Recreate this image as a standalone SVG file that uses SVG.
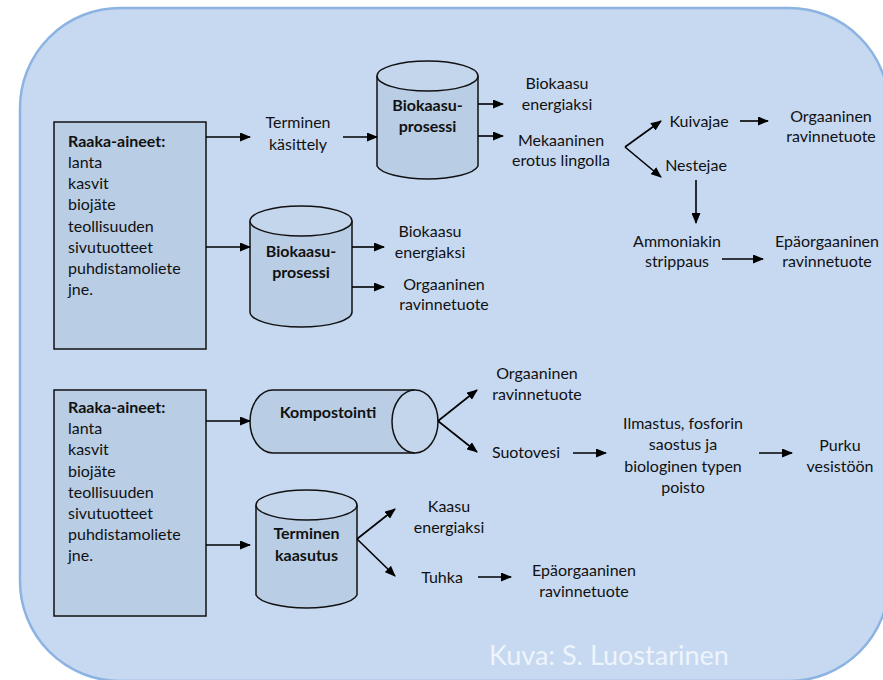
<svg xmlns="http://www.w3.org/2000/svg" width="883" height="680" viewBox="0 0 883 680">
<defs>
<marker id="ah" markerWidth="11" markerHeight="9" refX="10" refY="4.5" orient="auto" markerUnits="userSpaceOnUse">
<path d="M0,0 L11,4.5 L0,9 z" fill="#000"/>
</marker>
<style>
text{font-family:Lato,"Open Sans","Liberation Sans",sans-serif;font-size:16px;fill:#111}
.c{text-anchor:middle}
.b{font-weight:bold}
.box{fill:#b9cde5;stroke:#111;stroke-width:1.5}
.cyl{fill:#b9cde5;stroke:#111;stroke-width:1.5}
.top{fill:#c3d6ec;stroke:#111;stroke-width:1.5}
.ar{stroke:#000;stroke-width:1.6;fill:none;marker-end:url(#ah)}
</style>
</defs>
<rect x="20" y="8" width="869" height="673" rx="100" ry="100" fill="#c6d9f1" stroke="#8db3e2" stroke-width="2.5"/>

<g id="raw1">
<rect class="box" x="54" y="122" width="152" height="227"/>
<text x="68" y="147" class="b">Raaka-aineet:</text>
<text x="68" y="168">lanta</text>
<text x="68" y="189">kasvit</text>
<text x="68" y="210">biojäte</text>
<text x="68" y="232">teollisuuden</text>
<text x="68" y="253">sivutuotteet</text>
<text x="68" y="274">puhdistamoliete</text>
<text x="68" y="295">jne.</text>
</g>

<g id="raw2">
<rect class="box" x="54" y="390" width="152" height="226"/>
<text x="68" y="413" class="b">Raaka-aineet:</text>
<text x="68" y="434">lanta</text>
<text x="68" y="455">kasvit</text>
<text x="68" y="477">biojäte</text>
<text x="68" y="498">teollisuuden</text>
<text x="68" y="519">sivutuotteet</text>
<text x="68" y="540">puhdistamoliete</text>
<text x="68" y="561">jne.</text>
</g>

<g id="terminen-kasittely">
<text x="298" y="128" class="c">Terminen</text>
<text x="298" y="150" class="c">käsittely</text>
</g>

<g id="biokaasu1">
<path class="cyl" d="M377,76 L377,166 A51,15 0 0 0 478,166 L478,76"/>
<ellipse class="top" cx="427.5" cy="76" rx="50.5" ry="15"/>
<text x="427.5" y="111" class="c b">Biokaasu-</text>
<text x="427.5" y="132" class="c b">prosessi</text>
</g>

<g id="biokaasu2">
<path class="cyl" d="M250,221 L250,312 A51,15 0 0 0 352,312 L352,221"/>
<ellipse class="top" cx="301" cy="221" rx="51" ry="15"/>
<text x="301" y="257" class="c b">Biokaasu-</text>
<text x="301" y="278" class="c b">prosessi</text>
</g>

<g id="out-biokaasu1">
<text x="557" y="89" class="c">Biokaasu</text>
<text x="557" y="110" class="c">energiaksi</text>
</g>
<g id="mekaaninen">
<text x="561" y="146" class="c">Mekaaninen</text>
<text x="561" y="166" class="c">erotus lingolla</text>
</g>
<g id="kuivajae"><text x="699" y="127" class="c">Kuivajae</text></g>
<g id="orgaaninen1">
<text x="831" y="122" class="c">Orgaaninen</text>
<text x="831" y="142" class="c">ravinnetuote</text>
</g>
<g id="nestejae"><text x="696" y="171" class="c">Nestejae</text></g>
<g id="ammoniakin">
<text x="677" y="247" class="c">Ammoniakin</text>
<text x="677" y="267" class="c">strippaus</text>
</g>
<g id="epaorgaaninen1">
<text x="827" y="247" class="c">Epäorgaaninen</text>
<text x="827" y="267" class="c">ravinnetuote</text>
</g>

<g id="out-biokaasu2">
<text x="430" y="237" class="c">Biokaasu</text>
<text x="430" y="258" class="c">energiaksi</text>
</g>
<g id="orgaaninen2">
<text x="444" y="290" class="c">Orgaaninen</text>
<text x="444" y="310" class="c">ravinnetuote</text>
</g>

<g id="kompostointi">
<path class="cyl" d="M415,390 L273,390 A23,31.5 0 0 0 273,453 L415,453"/>
<ellipse class="top" cx="415" cy="421.5" rx="23" ry="31.5"/>
<text x="328" y="418" class="c b">Kompostointi</text>
</g>

<g id="terminen-kaasutus">
<path class="cyl" d="M256,505 L256,595 A51,15 0 0 0 357,595 L357,505"/>
<ellipse class="top" cx="306.5" cy="505" rx="50.5" ry="15"/>
<text x="306.5" y="539" class="c b">Terminen</text>
<text x="306.5" y="561" class="c b">kaasutus</text>
</g>

<g id="orgaaninen3">
<text x="537" y="379" class="c">Orgaaninen</text>
<text x="537" y="400" class="c">ravinnetuote</text>
</g>
<g id="suotovesi"><text x="526" y="458" class="c">Suotovesi</text></g>
<g id="ilmastus">
<text x="683" y="429" class="c">Ilmastus, fosforin</text>
<text x="683" y="450" class="c">saostus ja</text>
<text x="683" y="472" class="c">biologinen typen</text>
<text x="683" y="493" class="c">poisto</text>
</g>
<g id="purku">
<text x="840" y="451" class="c">Purku</text>
<text x="840" y="472" class="c">vesistöön</text>
</g>
<g id="kaasu">
<text x="449" y="512" class="c">Kaasu</text>
<text x="449" y="533" class="c">energiaksi</text>
</g>
<g id="tuhka"><text x="442" y="583" class="c">Tuhka</text></g>
<g id="epaorgaaninen2">
<text x="584" y="576" class="c">Epäorgaaninen</text>
<text x="584" y="597" class="c">ravinnetuote</text>
</g>

<g id="connectors">
<line class="ar" x1="206" y1="137" x2="250" y2="137"/>
<line class="ar" x1="343" y1="137" x2="377" y2="137"/>
<line class="ar" x1="206" y1="247" x2="250" y2="247"/>
<line class="ar" x1="352" y1="247" x2="384" y2="247"/>
<line class="ar" x1="352" y1="287" x2="384" y2="287"/>
<line class="ar" x1="478" y1="104" x2="503" y2="104"/>
<line class="ar" x1="478" y1="136" x2="503" y2="136"/>
<line class="ar" x1="625" y1="147" x2="661" y2="121"/>
<line class="ar" x1="625" y1="147" x2="661" y2="177"/>
<line class="ar" x1="740" y1="121" x2="768" y2="121"/>
<line class="ar" x1="696" y1="180" x2="696" y2="223"/>
<line class="ar" x1="722" y1="259" x2="763" y2="259"/>
<line class="ar" x1="206" y1="421" x2="250" y2="421"/>
<line class="ar" x1="206" y1="545" x2="250" y2="545"/>
<line class="ar" x1="438" y1="421" x2="477" y2="390"/>
<line class="ar" x1="438" y1="421" x2="477" y2="452"/>
<line class="ar" x1="573" y1="453" x2="606" y2="453"/>
<line class="ar" x1="759" y1="453" x2="792" y2="453"/>
<line class="ar" x1="357" y1="539" x2="395" y2="509"/>
<line class="ar" x1="357" y1="539" x2="395" y2="576"/>
<line class="ar" x1="478" y1="577" x2="511" y2="577"/>
</g>
<text x="489" y="665" style="font-family:Lato,'Open Sans',sans-serif;font-size:27px;fill:#eef4fb">Kuva: S. Luostarinen</text>
</svg>
